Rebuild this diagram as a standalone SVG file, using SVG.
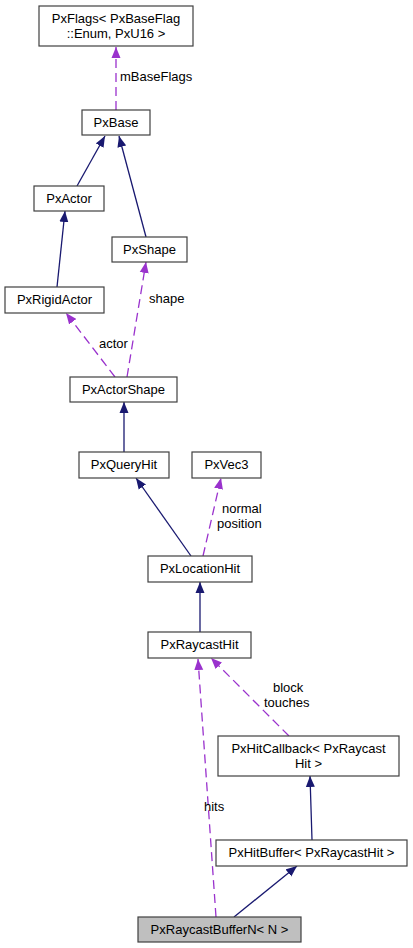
<svg xmlns="http://www.w3.org/2000/svg" width="413" height="948" viewBox="0 0 413 948">
<style>
.n rect{fill:#fff;stroke:#404040;stroke-width:1.2}
.n text,.lbl{font-family:"Liberation Sans",Arial,sans-serif;font-size:13px;fill:#000}
.n text{text-anchor:middle}
.s{stroke:#191970;stroke-width:1.3;fill:none}
.d{stroke:#9a32cd;stroke-width:1.3;fill:none;stroke-dasharray:9,5}
</style>
<defs>
<marker id="ab" markerUnits="userSpaceOnUse" markerWidth="12" markerHeight="10" refX="11" refY="5" orient="auto"><path d="M0,0.5 L11,5 L0,9.5 z" fill="#191970"/></marker>
<marker id="ap" markerUnits="userSpaceOnUse" markerWidth="12" markerHeight="10" refX="11" refY="5" orient="auto"><path d="M0,0.5 L11,5 L0,9.5 z" fill="#9a32cd"/></marker>
</defs>
<g id="edges">
<line class="d" x1="116" y1="110" x2="116" y2="47" marker-end="url(#ap)"/>
<text class="lbl" x="120" y="81">mBaseFlags</text>
<line class="s" x1="77" y1="186" x2="105" y2="136" marker-end="url(#ab)"/>
<line class="s" x1="146" y1="237" x2="119" y2="136" marker-end="url(#ab)"/>
<line class="s" x1="57" y1="287" x2="65" y2="211" marker-end="url(#ab)"/>
<line class="d" x1="115" y1="377" x2="66" y2="313" marker-end="url(#ap)"/>
<text class="lbl" x="99" y="348">actor</text>
<line class="d" x1="127" y1="377" x2="146" y2="262" marker-end="url(#ap)"/>
<text class="lbl" x="149" y="303">shape</text>
<line class="s" x1="124" y1="452" x2="124" y2="402" marker-end="url(#ab)"/>
<line class="s" x1="191" y1="556" x2="136" y2="478" marker-end="url(#ab)"/>
<line class="d" x1="203" y1="556" x2="221" y2="478" marker-end="url(#ap)"/>
<text class="lbl" x="222" y="513">normal</text>
<text class="lbl" x="217" y="528">position</text>
<line class="s" x1="200" y1="632" x2="200" y2="582" marker-end="url(#ab)"/>
<line class="d" x1="289" y1="736" x2="211" y2="658" marker-end="url(#ap)"/>
<text class="lbl" x="273" y="692">block</text>
<text class="lbl" x="264" y="707">touches</text>
<line class="d" x1="216" y1="917" x2="198" y2="659" marker-end="url(#ap)"/>
<text class="lbl" x="204" y="811">hits</text>
<line class="s" x1="312" y1="840" x2="310" y2="776" marker-end="url(#ab)"/>
<line class="s" x1="234" y1="917" x2="297" y2="866" marker-end="url(#ab)"/>
</g>
<g id="PxFlags" class="n"><rect x="39" y="6" width="154" height="40"/><text x="116" y="23">PxFlags&lt; PxBaseFlag</text><text x="116" y="38">::Enum, PxU16 &gt;</text></g>
<g id="PxBase" class="n"><rect x="82" y="110" width="68" height="25"/><text x="116" y="127">PxBase</text></g>
<g id="PxActor" class="n"><rect x="34" y="186" width="70" height="25"/><text x="69" y="203">PxActor</text></g>
<g id="PxShape" class="n"><rect x="112" y="237" width="75" height="25"/><text x="149.5" y="254">PxShape</text></g>
<g id="PxRigidActor" class="n"><rect x="5" y="287" width="99" height="26"/><text x="54.5" y="304">PxRigidActor</text></g>
<g id="PxActorShape" class="n"><rect x="70" y="377" width="107" height="25"/><text x="123.5" y="394">PxActorShape</text></g>
<g id="PxQueryHit" class="n"><rect x="79" y="452" width="90" height="26"/><text x="124" y="469">PxQueryHit</text></g>
<g id="PxVec3" class="n"><rect x="192" y="452" width="69" height="26"/><text x="226.5" y="469">PxVec3</text></g>
<g id="PxLocationHit" class="n"><rect x="148" y="556" width="104" height="26"/><text x="200" y="573">PxLocationHit</text></g>
<g id="PxRaycastHit" class="n"><rect x="148" y="632" width="103" height="26"/><text x="199.5" y="649">PxRaycastHit</text></g>
<g id="PxHitCallback" class="n"><rect x="218" y="736" width="181" height="40"/><text x="308.5" y="753">PxHitCallback&lt; PxRaycast</text><text x="308.5" y="768">Hit &gt;</text></g>
<g id="PxHitBuffer" class="n"><rect x="216" y="840" width="191" height="26"/><text x="311.5" y="857">PxHitBuffer&lt; PxRaycastHit &gt;</text></g>
<g id="PxRaycastBufferN" class="n"><rect x="138" y="917" width="163" height="25" style="fill:#bfbfbf"/><text x="219.5" y="934">PxRaycastBufferN&lt; N &gt;</text></g>
</svg>
